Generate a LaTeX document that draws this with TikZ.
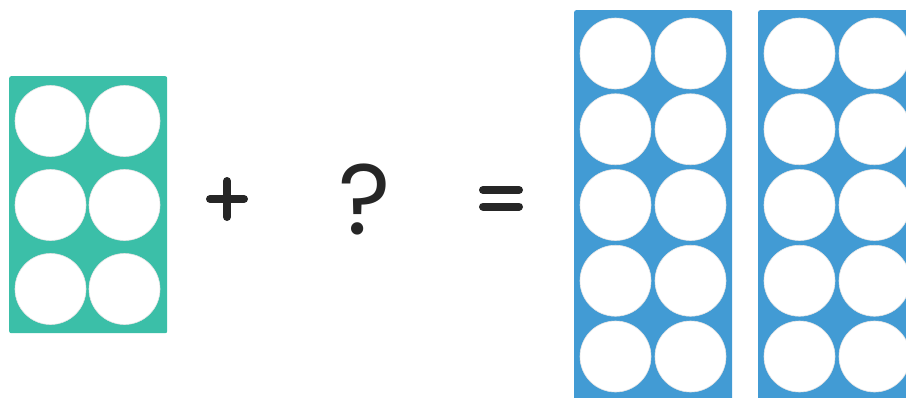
\documentclass[tikz,border=0pt]{standalone}
\usepackage{fontspec}
\setmainfont{Poppins}
\usetikzlibrary{positioning}
\definecolor{frameteal}{RGB}{59,191,168}
\definecolor{frameblue}{RGB}{66,155,212}
\definecolor{signdark}{RGB}{38,38,38}

\begin{document}
\begin{tikzpicture}[x=1pt, y=-1pt,
      frame/.style={rounded corners=2pt, inner sep=0pt, minimum width=158pt, anchor=north west},
      counter/.style={circle, fill=white, draw=black!10, line width=0.6pt, minimum size=71pt, inner sep=0pt},
      sign/.style={line width=8pt, line cap=round, draw=signdark}
    ]
      \useasboundingbox (0,0) rectangle (906,397);
      \clip (0,0) rectangle (906,397);

      % Six frame
      \node[frame, fill=frameteal, minimum height=257pt] (six) at (9,76) {};
      \foreach \r/\cy in {1/121,2/205,3/289} {
        \node[counter] (six-\r-a) at (50.5,\cy) {};
        \node[counter] (six-\r-b) at (124.5,\cy) {};
      }

      % Plus
      \coordinate (plus) at (227,199);
      \draw[sign] (210,199) -- (244,199);
      \draw[sign] (227,181) -- (227,217);

      % Unknown
      \node[inner sep=0pt, text=signdark, font=\fontsize{100}{100}\selectfont] (unknown) at (365,199) {?};

      % Equals
      \draw[sign] (483,190) -- (519,190);
      \draw[sign] (483,206.5) -- (519,206.5);

      % Ten frames
      \node[frame, fill=frameblue, minimum height=390pt] (tenA) at (574,10) {};
      \node[frame, fill=frameblue, minimum height=390pt] (tenB) at (758,10) {};
      \foreach \r in {0,...,4} {
        \node[counter] (tenA-\r-a) at (615.5,53.5+75.75*\r) {};
        \node[counter] (tenA-\r-b) at (690.5,53.5+75.75*\r) {};
        \node[counter] (tenB-\r-a) at (799.5,53.5+75.75*\r) {};
        \node[counter] (tenB-\r-b) at (874.5,53.5+75.75*\r) {};
      }
    \end{tikzpicture}
\end{document}
